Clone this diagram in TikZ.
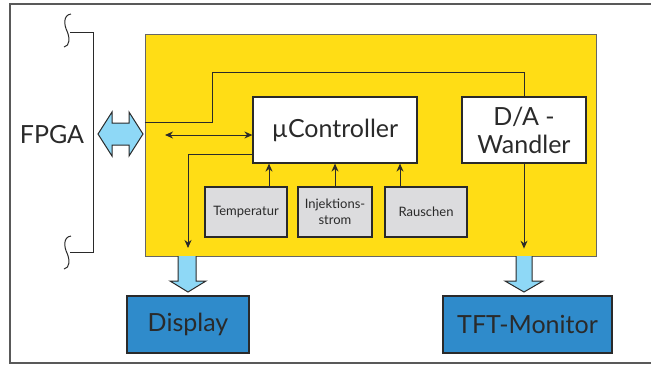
\documentclass[tikz,border=0pt]{standalone}
\usepackage{fontspec}
\setmainfont{Lato}
\usetikzlibrary{arrows.meta}

\definecolor{fpgayellow}{HTML}{FFDD15}
\definecolor{busblue}{HTML}{8ED8F6}
\definecolor{outblue}{HTML}{2F8BCB}
\definecolor{sensgray}{HTML}{DCDCDE}
\definecolor{ink}{HTML}{2A2A2A}

\tikzset{
  bigtext/.style={text=ink, font=\fontsize{25}{28}\selectfont},
  block/.style={draw=ink, line width=1.2pt, fill=white, bigtext,
    align=center, inner sep=0pt},
  sensor/.style={draw=ink, line width=1.1pt, fill=sensgray, text=ink,
    font=\fontsize{13}{15.5}\selectfont, align=center, inner sep=0pt,
    minimum height=50pt},
  outbox/.style={block, fill=outblue},
  bus/.style={draw=ink, line width=1pt, fill=busblue},
  wire/.style={draw=ink, line width=1pt},
  tip/.tip={Stealth[length=8pt,width=7pt]},
  sig/.style={wire, -tip},
  sigboth/.style={wire, tip-tip},
  squiggle/.style={draw=ink, line width=1pt},
}

\begin{document}
\begin{tikzpicture}[x=1pt,y=-1pt]
  \useasboundingbox (0,0) rectangle (651,365);
  \draw[line width=1.3pt, draw=gray!70!black] (10,4) rectangle (670,363);

  % FPGA bracket
  \node[bigtext] (fpgalabel) at (52,135) {FPGA};
  \draw[wire] (70,32) -- (93,32) -- (93,252) -- (70,252);
  \draw[squiggle] (71,14) .. controls (63,15) and (64,25) .. (67,31)
    .. controls (70,38) and (70,46) .. (64,47);
  \draw[squiggle] (71,236) .. controls (63,237) and (64,247) .. (67,253)
    .. controls (70,260) and (70,268) .. (64,269);

  % yellow FPGA area
  \node[draw=gray!80!black, line width=1pt, fill=fpgayellow, inner sep=0pt,
    minimum width=451pt, minimum height=222pt] (fpga) at (370.5,145) {};

  \node[block, minimum width=164pt, minimum height=66pt] (ctrl) at (335,130) {µController};
  \node[block, minimum width=124pt, minimum height=66pt] (da) at (524,130) {D/A -\\Wandler};

  \node[sensor, minimum width=82pt] (temp) at (246,212) {Temperatur};
  \node[sensor, minimum width=74pt] (inj) at (335,212) {Injektions-\\strom};
  \node[sensor, minimum width=82pt] (noise) at (426,212) {Rauschen};

  \node[outbox, minimum width=122pt, minimum height=57pt] (disp) at (188,324.5) {Display};
  \node[outbox, minimum width=169pt, minimum height=57pt] (tft) at (527.5,324.5) {TFT-Monitor};

  % bus arrows
  \filldraw[bus] (98,134) -- (112,112) -- (112,123) -- (129,123) -- (129,112)
    -- (143,134) -- (129,156) -- (129,145) -- (112,145) -- (112,156) -- cycle;
  \filldraw[bus] (178,256) -- (178,281) -- (170,281) -- (188,292) -- (206,281)
    -- (196,281) -- (196,256);
  \filldraw[bus] (516,256) -- (516,281) -- (505,281) -- (524,292) -- (543,281)
    -- (532,281) -- (532,256);

  % signals
  \coordinate (busl) at (165,135);
  \coordinate (dispin) at (188,248);
  \draw[wire] ([yshift=23pt]fpga.west) -| (212,72) -| (da.north);
  \draw[sigboth] (busl) -- ([yshift=-5pt]ctrl.west);
  \draw[sig] ([yshift=-24pt]ctrl.west) -| (dispin);
  \draw[sig] (da.south) -- ++(0,85);
  \draw[sig] ([xshift=23pt]temp.north) -- ([xshift=23pt]temp.north |- ctrl.south);
  \draw[sig] (inj.north) -- (ctrl.south);
  \draw[sig] ([xshift=-26pt]noise.north) -- ([xshift=-26pt]noise.north |- ctrl.south);
\end{tikzpicture}
\end{document}
